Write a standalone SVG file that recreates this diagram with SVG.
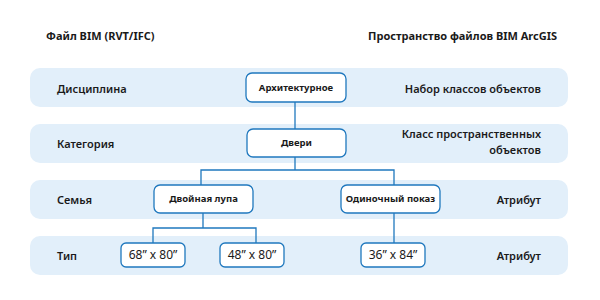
<svg xmlns="http://www.w3.org/2000/svg" width="600" height="300" viewBox="0 0 600 300">
<style>
.band{fill:#e2effa}
.node{fill:#fff;stroke:#1f78be;stroke-width:1.3}
.conn{fill:none;stroke:#1f78be;stroke-width:1.3}
text{font-family:"Noto Sans","Open Sans",sans-serif;fill:#1a1a1a}
.h{font-size:11px;font-weight:700}
.lbl{font-size:11px;font-weight:600}
.nt{font-size:9.5px;font-weight:700;text-anchor:middle}
.dim{font-size:12px;font-weight:400;text-anchor:middle}
.r{text-anchor:end}
</style>
<rect width="600" height="300" fill="#fff"/>
<g id="headers">
<text class="h" x="46" y="40">Файл BIM (RVT/IFC)</text>
<text class="h r" x="557" y="40">Пространство файлов BIM ArcGIS</text>
</g>
<g id="bands">
<rect class="band" x="30" y="68" width="538" height="39" rx="10"/>
<rect class="band" x="30" y="124" width="538" height="39" rx="10"/>
<rect class="band" x="30" y="180" width="538" height="39" rx="10"/>
<rect class="band" x="30" y="236" width="538" height="39" rx="10"/>
<text class="lbl" x="57" y="93">Дисциплина</text>
<text class="lbl" x="57" y="148">Категория</text>
<text class="lbl" x="57" y="204">Семья</text>
<text class="lbl" x="57" y="260">Тип</text>
<text class="lbl r" x="541" y="93">Набор классов объектов</text>
<text class="lbl r" x="541" y="138">Класс пространственных</text>
<text class="lbl r" x="541" y="154">объектов</text>
<text class="lbl r" x="541" y="204">Атрибут</text>
<text class="lbl r" x="541" y="260">Атрибут</text>
</g>
<g id="connectors">
<path class="conn" d="M295 102V129"/>
<path class="conn" d="M295 157V170H201V185M295 170H394V185"/>
<path class="conn" d="M203 213V228H153V243M203 228H256V243"/>
<path class="conn" d="M394 213V243"/>
</g>
<g id="n-arch"><rect class="node" x="246" y="73" width="100" height="29" rx="6"/><text class="nt" x="296" y="91">Архитектурное</text></g>
<g id="n-doors"><rect class="node" x="247" y="129" width="99" height="28" rx="6"/><text class="nt" x="296.5" y="146">Двери</text></g>
<g id="n-double"><rect class="node" x="154" y="185" width="99" height="28" rx="6"/><text class="nt" x="203.5" y="202">Двойная лупа</text></g>
<g id="n-single"><rect class="node" x="341" y="185" width="99" height="28" rx="6"/><text class="nt" x="390.5" y="202">Одиночный показ</text></g>
<g id="n-68"><rect class="node" x="121" y="243" width="64" height="24" rx="5"/><text class="dim" x="153" y="259">68” x 80”</text></g>
<g id="n-48"><rect class="node" x="220" y="243" width="64" height="24" rx="5"/><text class="dim" x="252" y="259">48” x 80”</text></g>
<g id="n-36"><rect class="node" x="361" y="243" width="64" height="24" rx="5"/><text class="dim" x="393" y="259">36” x 84”</text></g>
</svg>
